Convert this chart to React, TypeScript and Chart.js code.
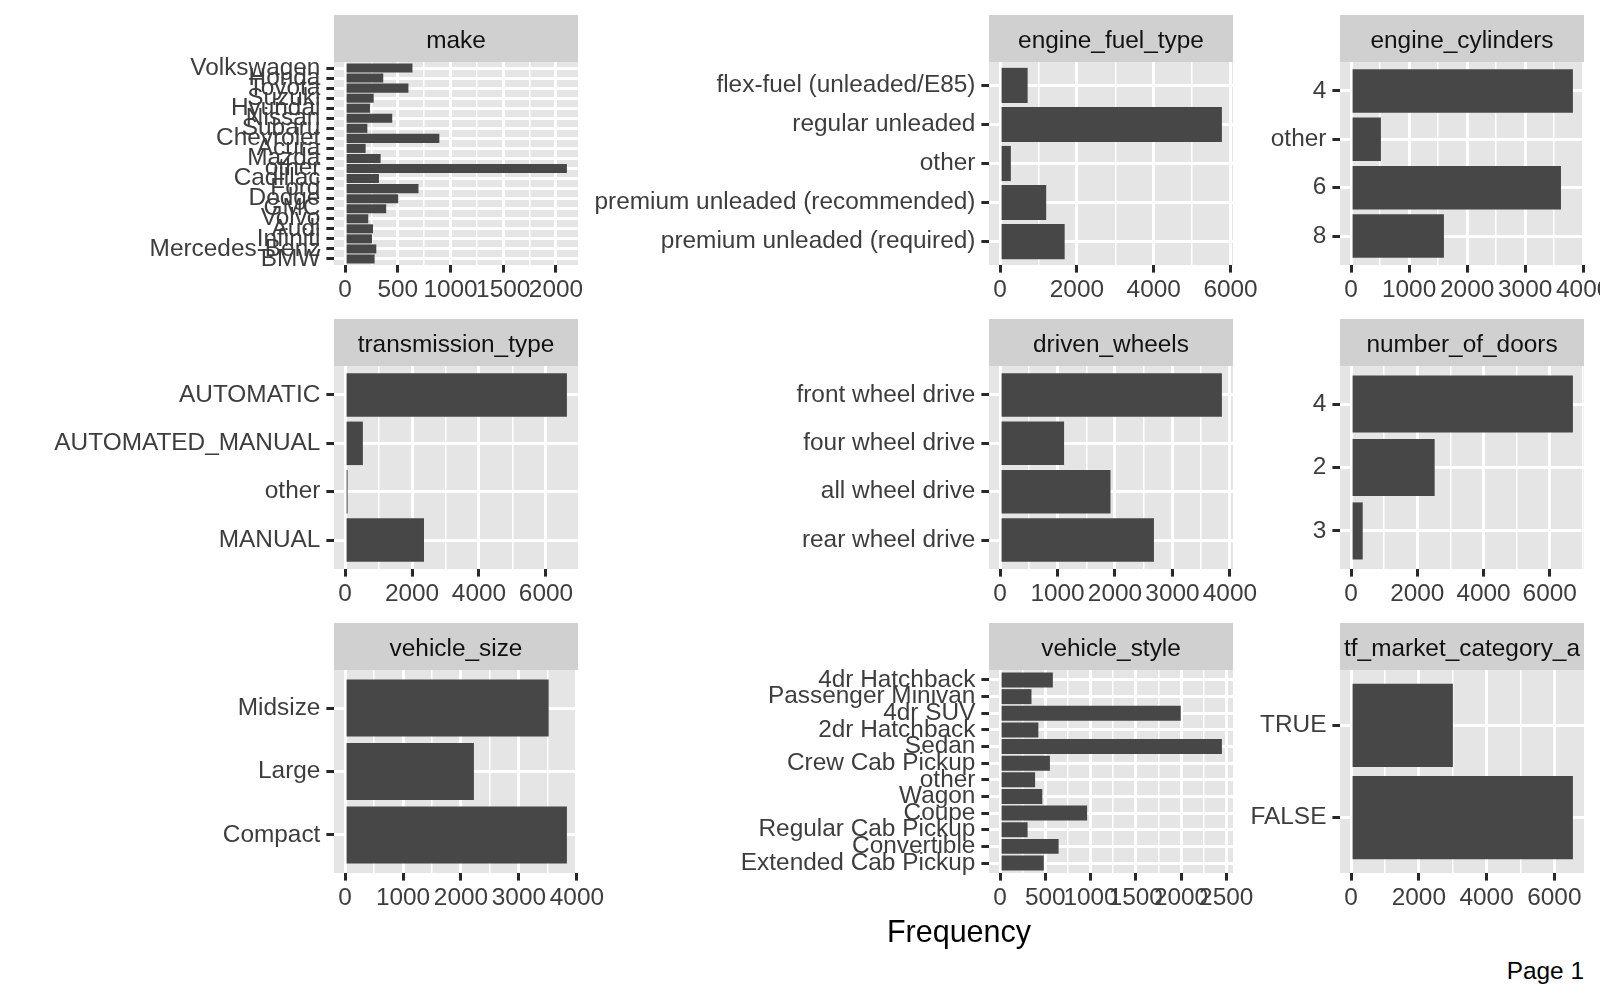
import React, { useEffect, useRef } from 'react';
import { Chart, registerables } from 'chart.js';

Chart.register(...registerables);

// ---------------- data (labels listed top to bottom) ----------------
const makeLabels = ['Volkswagen', 'Honda', 'Toyota', 'Suzuki', 'Hyundai', 'Nissan', 'Subaru', 'Chevrolet', 'Acura', 'Mazda', 'other', 'Cadillac', 'Ford', 'Dodge', 'GMC', 'Volvo', 'Audi', 'Infiniti', 'Mercedes-Benz', 'BMW'];
const makeCounts = [639, 362, 601, 271, 236, 447, 211, 894, 195, 337, 2104, 321, 696, 504, 390, 220, 265, 255, 296, 280];
const makeTicks = [0, 500, 1000, 1500, 2000];

const fuelLabels = ['flex-fuel (unleaded/E85)', 'regular unleaded', 'other', 'premium unleaded (recommended)', 'premium unleaded (required)'];
const fuelCounts = [717, 5775, 280, 1200, 1681];
const fuelTicks = [0, 2000, 4000, 6000];

const cylLabels = ['4', 'other', '6', '8'];
const cylCounts = [3823, 514, 3617, 1600];
const cylTicks = [0, 1000, 2000, 3000, 4000];

const transLabels = ['AUTOMATIC', 'AUTOMATED_MANUAL', 'other', 'MANUAL'];
const transCounts = [6626, 531, 74, 2357];
const transTicks = [0, 2000, 4000, 6000];

const wheelsLabels = ['front wheel drive', 'four wheel drive', 'all wheel drive', 'rear wheel drive'];
const wheelsCounts = [3861, 1114, 1922, 2678];
const wheelsTicks = [0, 1000, 2000, 3000, 4000];

const doorsLabels = ['4', '2', '3'];
const doorsCounts = [6700, 2524, 351];
const doorsTicks = [0, 2000, 4000, 6000];

const sizeLabels = ['Midsize', 'Large', 'Compact'];
const sizeCounts = [3513, 2223, 3828];
const sizeTicks = [0, 1000, 2000, 3000, 4000];

const styleLabels = ['4dr Hatchback', 'Passenger Minivan', '4dr SUV', '2dr Hatchback', 'Sedan', 'Crew Cab Pickup', 'other', 'Wagon', 'Coupe', 'Regular Cab Pickup', 'Convertible', 'Extended Cab Pickup'];
const styleCounts = [583, 347, 1997, 423, 2452, 551, 387, 467, 962, 304, 647, 483];
const styleTicks = [0, 500, 1000, 1500, 2000, 2500];

const tfLabels = ['TRUE', 'FALSE'];
const tfCounts = [3005, 6549];
const tfTicks = [0, 2000, 4000, 6000];

// ---------------- style / layout ----------------
const FONT = '"Liberation Sans", Arial, Helvetica, sans-serif';
const PANEL_BG = '#E5E5E5';
const STRIP_BG = '#D0D0D0';
const BAR_FILL = '#474747';
const AXIS_TEXT = '#3D3D3D';
const STRIP_TEXT = '#111111';
const TICK_COLOR = '#282828';
const TEXT_SIZE = 24.4;

const COL_LEFT = [334, 989, 1340];
const CANVAS_LEFT = [0, 575, 1225];
const ROW_TOP = [15, 319, 623];
const PANEL_W = 244;
const STRIP_H = 47;
const PANEL_H = 203;
const AXIS_H = 50;
const RIGHT_PAD = 60;

type PanelCfg = { title: string; labels: string[]; counts: number[]; ticks: number[]; row: number; col: number };

const panels: PanelCfg[] = [
  { title: 'make', labels: makeLabels, counts: makeCounts, ticks: makeTicks, row: 0, col: 0 },
  { title: 'engine_fuel_type', labels: fuelLabels, counts: fuelCounts, ticks: fuelTicks, row: 0, col: 1 },
  { title: 'engine_cylinders', labels: cylLabels, counts: cylCounts, ticks: cylTicks, row: 0, col: 2 },
  { title: 'transmission_type', labels: transLabels, counts: transCounts, ticks: transTicks, row: 1, col: 0 },
  { title: 'driven_wheels', labels: wheelsLabels, counts: wheelsCounts, ticks: wheelsTicks, row: 1, col: 1 },
  { title: 'number_of_doors', labels: doorsLabels, counts: doorsCounts, ticks: doorsTicks, row: 1, col: 2 },
  { title: 'vehicle_size', labels: sizeLabels, counts: sizeCounts, ticks: sizeTicks, row: 2, col: 0 },
  { title: 'vehicle_style', labels: styleLabels, counts: styleCounts, ticks: styleTicks, row: 2, col: 1 },
  { title: 'tf_market_category_a', labels: tfLabels, counts: tfCounts, ticks: tfTicks, row: 2, col: 2 },
];

function minorBreaks(majors: number[], lo: number, hi: number): number[] {
  const step = majors[1] - majors[0];
  const ext = [majors[0] - step, ...majors, majors[majors.length - 1] + step];
  const out: number[] = [];
  for (let i = 0; i < ext.length - 1; i++) {
    const m = (ext[i] + ext[i + 1]) / 2;
    if (m >= lo && m <= hi) out.push(m);
  }
  return out;
}

function Panel({ cfg }: { cfg: PanelCfg }) {
  const ref = useRef<HTMLCanvasElement>(null);
  const yAxisW = COL_LEFT[cfg.col] - CANVAS_LEFT[cfg.col];
  const width = yAxisW + PANEL_W + RIGHT_PAD;
  const height = STRIP_H + PANEL_H + AXIS_H;

  useEffect(() => {
    const n = cfg.labels.length;
    const maxV = Math.max(...cfg.counts);
    const lo = -0.05 * maxV;
    const hi = 1.05 * maxV;
    const majors = cfg.ticks;
    const minors = minorBreaks(majors, lo, hi);
    const allX = [...majors, ...minors].sort((a, b) => a - b);
    const isMajor = (v: number) => majors.indexOf(v) >= 0;
    const positions = cfg.labels.map((_, i) => n - i);

    const stripPlugin = {
      id: 'stripPlugin',
      beforeDraw(chart: any) {
        const { ctx, chartArea } = chart;
        ctx.save();
        ctx.fillStyle = PANEL_BG;
        ctx.fillRect(chartArea.left, chartArea.top, chartArea.right - chartArea.left, chartArea.bottom - chartArea.top);
        ctx.fillStyle = STRIP_BG;
        ctx.fillRect(chartArea.left, 0, chartArea.right - chartArea.left, chartArea.top);
        ctx.fillStyle = STRIP_TEXT;
        ctx.font = `${TEXT_SIZE}px ${FONT}`;
        ctx.textAlign = 'center';
        ctx.textBaseline = 'middle';
        ctx.fillText(cfg.title, (chartArea.left + chartArea.right) / 2, chartArea.top / 2 + 3);
        ctx.restore();
      },
    };

    const chart = new Chart(ref.current as HTMLCanvasElement, {
      type: 'bar',
      data: {
        datasets: [
          {
            data: cfg.counts.map((v, i) => ({ x: v, y: positions[i] })),
            backgroundColor: BAR_FILL,
            borderWidth: 0,
            barPercentage: 0.9,
            categoryPercentage: 1.0,
          },
        ],
      },
      options: {
        indexAxis: 'y',
        animation: false,
        responsive: false,
        maintainAspectRatio: false,
        events: [],
        layout: { padding: { top: STRIP_H, right: RIGHT_PAD, left: 0, bottom: 0 } },
        plugins: { legend: { display: false }, tooltip: { enabled: false }, title: { display: false } },
        scales: {
          x: {
            type: 'linear',
            min: lo,
            max: hi,
            bounds: 'data',
            offset: false,
            afterBuildTicks: (scale: any) => {
              scale.ticks = allX.map((v) => ({ value: v }));
            },
            afterFit: (scale: any) => {
              scale.height = AXIS_H;
            },
            border: { display: false },
            grid: {
              offset: false,
              color: '#FFFFFF',
              lineWidth: (ctx: any) => (ctx.tick && isMajor(ctx.tick.value) ? 3 : 1.5),
              tickColor: (ctx: any) => (ctx.tick && isMajor(ctx.tick.value) ? TICK_COLOR : 'rgba(0,0,0,0)'),
              tickWidth: 3,
              tickLength: 7.6,
              drawTicks: true,
            },
            ticks: {
              autoSkip: false,
              minRotation: 0,
              maxRotation: 0,
              padding: 3,
              color: AXIS_TEXT,
              font: { family: FONT, size: TEXT_SIZE },
              callback: (v: any) => (isMajor(Number(v)) ? String(v) : ''),
            },
          },
          y: {
            type: 'linear',
            min: 0.4,
            max: n + 0.6,
            bounds: 'data',
            offset: false,
            afterBuildTicks: (scale: any) => {
              scale.ticks = positions.map((v) => ({ value: v }));
            },
            afterFit: (scale: any) => {
              scale.width = yAxisW;
            },
            border: { display: false },
            grid: {
              offset: false,
              color: '#FFFFFF',
              lineWidth: 3,
              tickColor: TICK_COLOR,
              tickWidth: 3,
              tickLength: 7.6,
              drawTicks: true,
            },
            ticks: {
              autoSkip: false,
              padding: 6,
              color: AXIS_TEXT,
              font: { family: FONT, size: TEXT_SIZE },
              callback: (v: any) => cfg.labels[n - Math.round(Number(v))],
            },
          },
        },
      } as any,
      plugins: [stripPlugin],
    });
    return () => chart.destroy();
  }, []);

  return (
    <div
      style={{
        position: 'absolute',
        left: CANVAS_LEFT[cfg.col],
        top: ROW_TOP[cfg.row],
        width,
        height,
      }}
    >
      <canvas ref={ref} width={width} height={height} style={{ width, height, display: 'block' }} />
    </div>
  );
}

export default function App() {
  return (
    <div
      style={{
        position: 'absolute',
        left: 0,
        top: 0,
        width: 1600,
        height: 1000,
        overflow: 'hidden',
        background: '#FFFFFF',
        fontFamily: FONT,
      }}
    >
      {panels.map((p) => (
        <Panel key={p.title} cfg={p} />
      ))}
      <div
        style={{
          position: 'absolute',
          left: 959,
          top: 931,
          transform: 'translate(-50%, -50%)',
          fontSize: 30.5,
          lineHeight: 1,
          color: '#000000',
          whiteSpace: 'nowrap',
        }}
      >
        Frequency
      </div>
      <div
        style={{
          position: 'absolute',
          left: 1584,
          top: 971,
          transform: 'translate(-100%, -50%)',
          fontSize: TEXT_SIZE,
          lineHeight: 1,
          color: '#000000',
          whiteSpace: 'nowrap',
        }}
      >
        Page 1
      </div>
    </div>
  );
}
